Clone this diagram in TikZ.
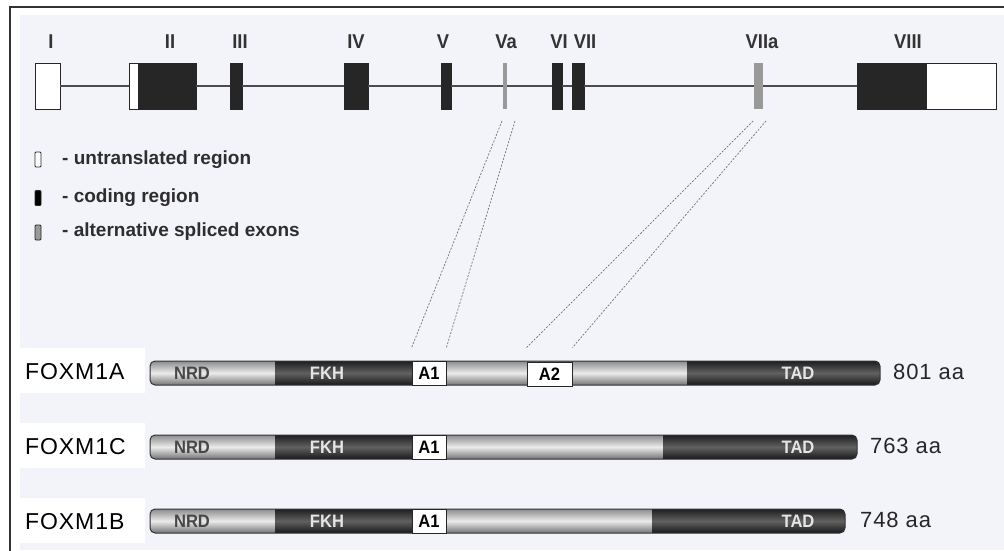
\documentclass[tikz,border=0pt]{standalone}
\usepackage{fontspec}
\setmainfont{Liberation Sans}
\newfontfamily\condf[FakeStretch=0.92]{Liberation Sans}
\newfontfamily\widef[LetterSpace=4]{Liberation Sans}
\usetikzlibrary{calc}
\definecolor{bgl}{RGB}{243,243,250}
\begin{document}
\begin{tikzpicture}[x=1pt,y=-1pt,
  exonbase/.style={inner sep=0pt, outer sep=0pt, minimum height=46pt},
  exonW/.style={exonbase, draw=black!85, fill=white, line width=0.9pt},
  exonB/.style={exonbase, draw=black!85, fill=black!85, line width=0.9pt},
  exonG/.style={exonbase, fill=black!40},
  intron/.style={draw=black!70, line width=1.1pt},
  numlbl/.style={font=\condf\bfseries\fontsize{20}{20}\selectfont, text=black!80, inner sep=0pt},
  legbox/.style={inner sep=0pt, minimum width=6pt, minimum height=15pt, line width=0.9pt, draw=black!85, rounded corners=1pt},
  legtxt/.style={font=\bfseries\fontsize{19}{19}\selectfont, text=black!82, anchor=west, inner sep=0pt},
  isoname/.style={font=\widef\fontsize{23}{23}\selectfont, text=black, anchor=west, inner sep=0pt},
  aalbl/.style={font=\widef\fontsize{22}{22}\selectfont, text=black!85, anchor=west, inner sep=0pt},
  lightseg/.style={top color=black!45, bottom color=black!55, middle color=black!8},
  darkseg/.style={top color=black!88, bottom color=black!90, middle color=black!62},
  barline/.style={draw=black!80, line width=1pt, rounded corners=5pt},
  domlight/.style={font=\condf\bfseries\fontsize{18}{18}\selectfont, text=black!72, inner sep=0pt},
  domdark/.style={font=\condf\bfseries\fontsize{18}{18}\selectfont, text=black!10, inner sep=0pt},
  abox/.style={draw=black!85, fill=white, line width=0.8pt, minimum height=24pt, inner sep=0pt, font=\condf\bfseries\fontsize{18}{18}\selectfont},
  splice/.style={draw=black!55, dash pattern=on 2pt off 1.5pt, line width=0.7pt},
  namebg/.style={fill=white}
]
\useasboundingbox (0,0) rectangle (1004,550);
% background and frame
\fill[white] (0,0) rectangle (1004,550);
\fill[bgl] (20,15) rectangle (1004,550);
\draw[black!80, line width=1.2pt] (10,552) -- (10,7) -- (1006,7);
\fill[namebg] (20,348) rectangle (145,393);
\fill[namebg] (20,423) rectangle (145,468);
\fill[namebg] (20,498) rectangle (145,543);

% gene structure
\node[exonW, minimum width=25pt] (eI) at (47.5,86) {};
\node[exonW, minimum width=9pt] (eIIu) at (133.5,86) {};
\node[exonB, minimum width=58pt] (eII) at (167,86) {};
\node[exonB, minimum width=12pt] (eIII) at (236,86) {};
\node[exonB, minimum width=24pt] (eIV) at (356,86) {};
\node[exonB, minimum width=10pt] (eV) at (446,86) {};
\node[exonG, minimum width=4pt] (eVa) at (505,86) {};
\node[exonB, minimum width=10pt] (eVI) at (557,86) {};
\node[exonB, minimum width=12pt] (eVII) at (578,86) {};
\node[exonG, minimum width=9pt] (eVIIa) at (758.5,86) {};
\node[exonB, minimum width=69pt] (eVIII) at (891.5,86) {};
\node[exonW, minimum width=70pt] (eVIIIu) at (961,86) {};
\draw[intron] (eI.east) -- (eIIu.west);
\draw[intron] (eII.east) -- (eIII.west);
\draw[intron] (eIII.east) -- (eIV.west);
\draw[intron] (eIV.east) -- (eV.west);
\draw[intron] (eV.east) -- (eVa.west);
\draw[intron] (eVa.east) -- (eVI.west);
\draw[intron] (eVI.east) -- (eVII.west);
\draw[intron] (eVII.east) -- (eVIIa.west);
\draw[intron] (eVIIa.east) -- (eVIII.west);

% exon numbers
\node[numlbl] (lI) at (51,42) {I};
\node[numlbl] (lII) at (170,42) {II};
\node[numlbl] (lIII) at (240,42) {III};
\node[numlbl] (lIV) at (356,42) {IV};
\node[numlbl] (lV) at (443,42) {V};
\node[numlbl] (lVa) at (506,42) {Va};
\node[numlbl] (lVI) at (559,42) {VI};
\node[numlbl] (lVII) at (585,42) {VII};
\node[numlbl] (lVIIa) at (762,42) {VIIa};
\node[numlbl] (lVIII) at (908,42) {VIII};

% legend
\node[legbox, fill=white] (kU) at (38,159.5) {};
\node[legbox, fill=black] (kC) at (38,198) {};
\node[legbox, fill=black!40] (kA) at (38,232.5) {};
\node[legtxt] (tU) at (62,160) {- untranslated region};
\node[legtxt] (tC) at (62,198) {- coding region};
\node[legtxt] (tA) at (62,232) {- alternative spliced exons};

% isoform names
\node[isoname] (nA) at (25,372) {FOXM1A};
\node[isoname] (nC) at (25,447) {FOXM1C};
\node[isoname] (nB) at (25,522) {FOXM1B};

% FOXM1A bar
\begin{scope}
\clip[rounded corners=5pt] (150,361) rectangle (880,385);
\fill[lightseg] (150,361) rectangle (275,385);
\fill[darkseg] (275,361) rectangle (412,385);
\fill[lightseg] (412,361) rectangle (687,385);
\fill[darkseg] (687,361) rectangle (880,385);
\end{scope}
\draw[barline] (150,361) rectangle (880,385);
\node[abox, minimum width=34pt] (A1a) at (429,373) {A1};
\node[abox, minimum width=45pt] (A2a) at (549.5,374) {A2};
\node[domlight] (nrdA) at (192,373) {NRD};
\node[domdark] (fkhA) at (327,373) {FKH};
\node[domdark] (tadA) at (798,373) {TAD};
\node[aalbl] (aaA) at (893,372) {801 aa};

% FOXM1C bar
\begin{scope}
\clip[rounded corners=5pt] (150,435) rectangle (857,459);
\fill[lightseg] (150,435) rectangle (275,459);
\fill[darkseg] (275,435) rectangle (412,459);
\fill[lightseg] (412,435) rectangle (663,459);
\fill[darkseg] (663,435) rectangle (857,459);
\end{scope}
\draw[barline] (150,435) rectangle (857,459);
\node[abox, minimum width=34pt] (A1c) at (429,447) {A1};
\node[domlight] (nrdC) at (192,447) {NRD};
\node[domdark] (fkhC) at (327,447) {FKH};
\node[domdark] (tadC) at (798,447) {TAD};
\node[aalbl] (aaC) at (870,446) {763 aa};

% FOXM1B bar
\begin{scope}
\clip[rounded corners=5pt] (150,509) rectangle (845,533);
\fill[lightseg] (150,509) rectangle (275,533);
\fill[darkseg] (275,509) rectangle (412,533);
\fill[lightseg] (412,509) rectangle (652,533);
\fill[darkseg] (652,509) rectangle (845,533);
\end{scope}
\draw[barline] (150,509) rectangle (845,533);
\node[abox, minimum width=34pt] (A1b) at (429,521) {A1};
\node[domlight] (nrdB) at (192,521) {NRD};
\node[domdark] (fkhB) at (327,521) {FKH};
\node[domdark] (tadB) at (798,521) {TAD};
\node[aalbl] (aaB) at (860,520) {748 aa};

% splice connectors
\draw[splice] ($(eVa.south)+(-3,12)$) -- ($(A1a.north west)+(0,-13)$);
\draw[splice] ($(eVa.south)+(10,12)$) -- ($(A1a.north east)+(0,-13)$);
\draw[splice] ($(eVIIa.south)+(-5.5,12)$) -- ($(A2a.north west)+(0,-14)$);
\draw[splice] ($(eVIIa.south)+(7.5,12)$) -- ($(A2a.north east)+(0,-14)$);
\end{tikzpicture}
\end{document}
